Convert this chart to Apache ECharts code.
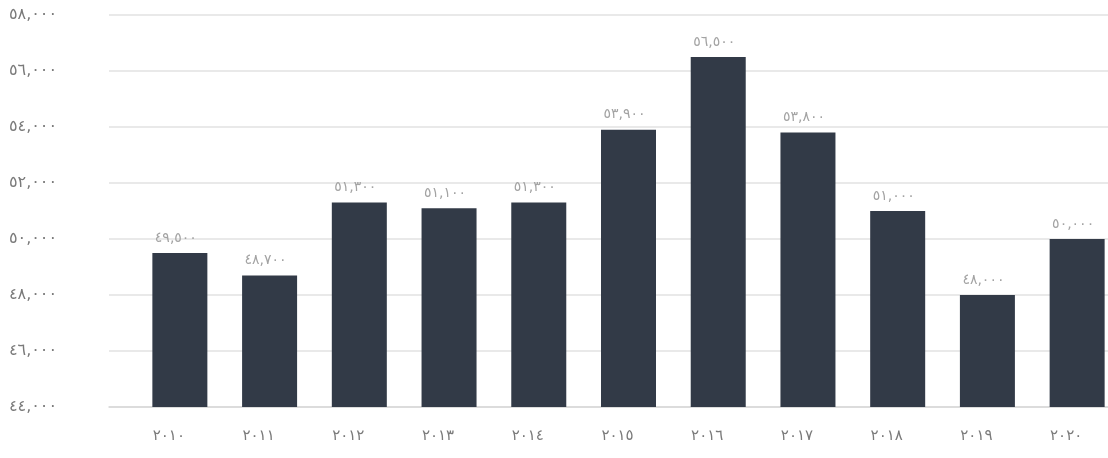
<!DOCTYPE html>
<html lang="ar">
<head>
<meta charset="UTF-8">
<title>chart</title>
<style>
  html, body { margin: 0; padding: 0; background: #fff; }
  #chart { width: 1108px; height: 458px; }
</style>
<script src="https://cdn.jsdelivr.net/npm/echarts@6/dist/echarts.min.js"></script>
</head>
<body>
<div id="chart"></div>
<script>
  // data
  var years = [2010, 2011, 2012, 2013, 2014, 2015, 2016, 2017, 2018, 2019, 2020];
  var values = [49500, 48700, 51300, 51100, 51300, 53900, 56500, 53800, 51000, 48000, 50000];
  var yMin = 44000, yMax = 58000, yStep = 2000;

  var digits = '٠١٢٣٤٥٦٧٨٩';
  function toArabic(s) {
    return String(s).replace(/[0-9]/g, function (d) { return digits[+d]; });
  }
  function fmt(v) {
    return toArabic(String(v).replace(/\B(?=(\d{3})+(?!\d))/g, ','));
  }

  var font = 'DejaVu Sans';
  var chart = echarts.init(document.getElementById('chart'));
  chart.setOption({
    animation: false,
    backgroundColor: '#fff',
    grid: [
      { left: 109, right: 0, top: 15, bottom: 51, outerBoundsMode: 'none' },
      { left: 135, width: 987, top: 15, bottom: 51, outerBoundsMode: 'none' }
    ],
    xAxis: [
      {
        gridIndex: 0, type: 'category', data: years.map(String), show: true,
        axisLine: { show: true, lineStyle: { color: '#d8d8d8', width: 1.5 } },
        axisTick: { show: false }, axisLabel: { show: false }
      },
      {
        gridIndex: 1, type: 'category', data: years.map(String),
        axisLine: { show: false }, axisTick: { show: false },
        axisLabel: {
          margin: 22, color: '#7a7a7a', fontSize: 15, fontFamily: font,
          padding: [0, 22, 0, 0],
          formatter: function (v) { return toArabic(v); }
        }
      }
    ],
    yAxis: [
      {
        gridIndex: 0, type: 'value', min: yMin, max: yMax, interval: yStep,
        axisLine: { show: false }, axisTick: { show: false },
        splitLine: { lineStyle: { color: '#e2e2e2', width: 1.5 } },
        axisLabel: {
          margin: 52, color: '#7a7a7a', fontSize: 16, fontFamily: font,
          formatter: function (v) { return fmt(v); }
        }
      },
      {
        gridIndex: 1, type: 'value', min: yMin, max: yMax, interval: yStep,
        show: false, splitLine: { show: false }
      }
    ],
    series: [{
      type: 'bar',
      xAxisIndex: 1, yAxisIndex: 1,
      data: values,
      barWidth: 55,
      itemStyle: { color: '#323a47' },
      label: {
        show: true, position: 'top', distance: 8,
        color: '#a3a3a3', fontSize: 14, fontFamily: font,
        padding: [0, 8, 0, 0],
        formatter: function (p) { return fmt(p.value); }
      }
    }]
  });
</script>
</body>
</html>
